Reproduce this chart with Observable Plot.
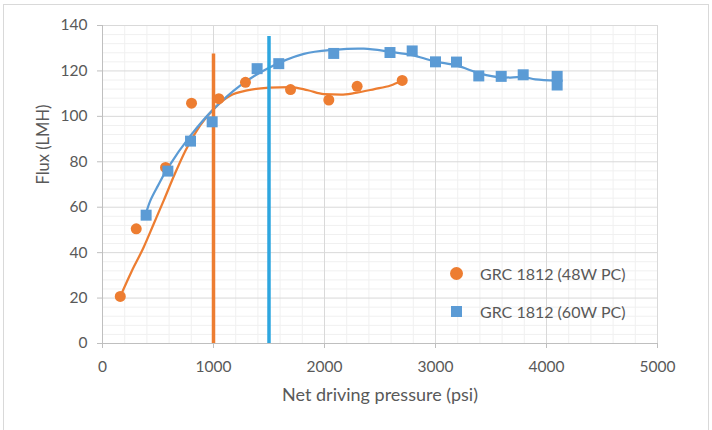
<!DOCTYPE html>
<html>
<head>
<meta charset="utf-8">
<script src="https://cdn.jsdelivr.net/npm/d3@7"></script>
<script src="https://cdn.jsdelivr.net/npm/@observablehq/plot@0.6"></script>
<style>
  html, body { margin: 0; padding: 0; background: #fff; }
  #wrap { position: relative; width: 712px; height: 430px; overflow: hidden; font-family: Lato, "Liberation Sans", sans-serif; }
  #border { position: absolute; left: 3px; top: 4px; width: 706px; height: 440px; border: 1px solid #d9d9d9; box-sizing: border-box; pointer-events: none; }
  #legend { position: absolute; left: 450px; top: 254px; color: #595959; font-size: 16px; }
  .item { display: flex; align-items: center; height: 38px; }
  .sw { width: 13px; height: 13px; margin-right: 17px; display: inline-block; }
</style>
</head>
<body>
<div id="wrap">
  <div id="chart"></div>
  <div id="border"></div>
  <div id="legend"></div>
</div>
<script>
// Series names and colours
const seriesNames = ["GRC 1812 (48W PC)", "GRC 1812 (60W PC)"];
const seriesColors = ["#ED7D31", "#5B9BD5"];

// GRC 1812 (48W PC) measured points
const x48 = [160, 304, 568, 802, 1048, 1288, 1694, 2039, 2294, 2700];
const y48 = [20.7, 50.5, 77.5, 105.8, 107.8, 115, 111.8, 107.2, 113.2, 115.8];

// GRC 1812 (60W PC) measured points
const x60 = [393, 589, 793, 988, 1393, 1588, 2083, 2590, 2790, 3000, 3189, 3390, 3592, 3790, 4096, 4096];
const y60 = [56.5, 75.9, 89.1, 97.6, 121, 123.2, 127.7, 128.1, 128.8, 124, 123.9, 117.8, 117.6, 118.3, 117.6, 113.8];

// Smoothed trend lines
const tx48 = [160, 260, 372, 460, 552, 650, 748, 880, 1003, 1153, 1303, 1500, 1694, 1850, 1994, 2150, 2264, 2450, 2595, 2700];
const ty48 = [20.7, 31.5, 42.5, 52.5, 63, 74.5, 85, 96, 103.3, 109.2, 111.4, 112.6, 112.9, 111.5, 109.8, 109.6, 110.2, 112, 113.6, 115.8];
const tx60 = [393, 432, 500, 589, 793, 1003, 1243, 1483, 1814, 2083, 2354, 2595, 2790, 2985, 3195, 3405, 3592, 3795, 3900, 4096];
const ty60 = [57.5, 63, 69.5, 77.3, 91.5, 103.3, 113.6, 121, 127.5, 129.3, 129.8, 128.4, 127, 124.3, 122.3, 118.8, 117.1, 117.3, 116.3, 115.8];

// Vertical reference lines
const refX = [1000, 1500];
const refTop = [127.5, 135.2];
const refColors = ["#ED7D31", "#2EA6DF"];

// Axes
const xTicks = [0, 1000, 2000, 3000, 4000, 5000];
const yTicks = [0, 20, 40, 60, 80, 100, 120, 140];
const xMinor = d3.range(0, 5001, 200).filter(v => v % 1000 !== 0);
const yMinor = d3.range(0, 141, 4).filter(v => v % 20 !== 0);
const xLabel = "Net driving pressure (psi)";
const yLabel = "Flux (LMH)";

const pts48 = x48.map((x, i) => ({x, y: y48[i]}));
const pts60 = x60.map((x, i) => ({x, y: y60[i]}));
const tr48 = tx48.map((x, i) => ({x, y: ty48[i]}));
const tr60 = tx60.map((x, i) => ({x, y: ty60[i]}));
const refs = refX.map((x, i) => ({x, top: refTop[i], c: refColors[i]}));

const chart = Plot.plot({
  width: 712,
  height: 430,
  marginLeft: 102,
  marginRight: 55,
  marginTop: 25,
  marginBottom: 87,
  style: {fontFamily: "Lato, 'Liberation Sans', sans-serif", color: "#595959", background: "transparent"},
  x: {domain: [0, 5000]},
  y: {domain: [0, 140]},
  marks: [
    Plot.gridX(xMinor, {stroke: "#f0f0f0", strokeOpacity: 1}),
    Plot.gridY(yMinor, {stroke: "#f0f0f0", strokeOpacity: 1}),
    Plot.gridX(xTicks, {stroke: "#d9d9d9", strokeOpacity: 1}),
    Plot.gridY(yTicks, {stroke: "#d9d9d9", strokeOpacity: 1}),
    Plot.axisX({ticks: xTicks, tickFormat: d3.format("d"), tickSize: 5, tickPadding: 12, fontSize: 15.5, stroke: "#bfbfbf", label: null}),
    Plot.axisY({ticks: yTicks, tickSize: 5, tickPadding: 10, fontSize: 15.5, stroke: "#bfbfbf", label: null}),
    Plot.text([xLabel], {frameAnchor: "bottom", dy: 57, fontSize: 18, fill: "#595959"}),
    Plot.text([yLabel], {frameAnchor: "left", dx: -59, rotate: -90, fontSize: 16.5, fill: "#595959"}),
    Plot.ruleY([0], {stroke: "#bfbfbf"}),
    Plot.ruleX([0], {stroke: "#bfbfbf"}),
    Plot.line(tr48, {x: "x", y: "y", stroke: seriesColors[0], strokeWidth: 2.25, curve: "monotone-x"}),
    Plot.line(tr60, {x: "x", y: "y", stroke: seriesColors[1], strokeWidth: 2.25, curve: "catmull-rom"}),
    Plot.ruleX(refs, {x: "x", y1: 0, y2: "top", stroke: "c", strokeWidth: 3.5}),
    Plot.dot(pts48, {x: "x", y: "y", r: 5.5, fill: seriesColors[0], symbol: "circle"}),
    Plot.dot(pts60, {x: "x", y: "y", r: 6.2, fill: seriesColors[1], symbol: "square"})
  ]
});
document.getElementById("chart").appendChild(chart);

const leg = document.getElementById("legend");
seriesNames.forEach((n, i) => {
  const it = document.createElement("div");
  it.className = "item";
  const sw = document.createElement("span");
  sw.className = "sw";
  sw.style.background = seriesColors[i];
  if (i === 0) sw.style.borderRadius = "50%";
  if (i === 1) { sw.style.width = "11px"; sw.style.height = "11px"; sw.style.margin = "0 18px 0 1px"; }
  it.appendChild(sw);
  it.appendChild(document.createTextNode(n));
  leg.appendChild(it);
});
</script>
</body>
</html>
